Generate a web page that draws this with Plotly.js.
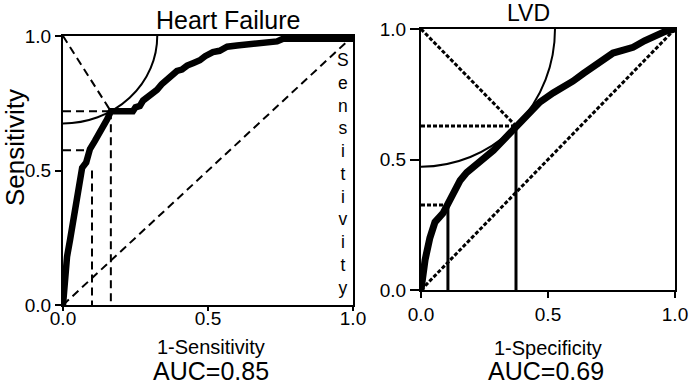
<!DOCTYPE html>
<html>
<head>
<meta charset="utf-8">
<script src="https://cdn.plot.ly/plotly-3.0.1.min.js"></script>
<style>html,body{margin:0;padding:0;background:#fff}#chart{width:693px;height:385px}</style>
</head>
<body>
<div id="chart"></div>
<script>
// Heart Failure ROC curve (1-specificity, sensitivity)
const hfX = [0, 0.003, 0.007, 0.014, 0.024, 0.031, 0.041, 0.059, 0.066, 0.08, 0.093, 0.11, 0.128, 0.14, 0.152, 0.165, 0.2, 0.241, 0.25, 0.265, 0.276, 0.29, 0.305, 0.324, 0.34, 0.359, 0.375, 0.393, 0.41, 0.428, 0.45, 0.472, 0.49, 0.517, 0.54, 0.566, 0.6, 0.655, 0.7, 0.738, 0.759, 0.85, 1];
const hfY = [0, 0.056, 0.13, 0.18, 0.24, 0.28, 0.35, 0.45, 0.51, 0.53, 0.58, 0.61, 0.64, 0.665, 0.69, 0.72, 0.72, 0.72, 0.735, 0.74, 0.76, 0.77, 0.785, 0.80, 0.82, 0.84, 0.85, 0.87, 0.875, 0.89, 0.90, 0.91, 0.925, 0.94, 0.945, 0.96, 0.965, 0.97, 0.975, 0.98, 0.99, 0.99, 0.99];
// LVD ROC curve
const lvdX = [0, 0.004, 0.016, 0.035, 0.055, 0.087, 0.106, 0.126, 0.154, 0.18, 0.205, 0.23, 0.26, 0.285, 0.31, 0.36, 0.39, 0.417, 0.468, 0.52, 0.56, 0.598, 0.64, 0.677, 0.72, 0.756, 0.8, 0.835, 0.88, 0.913, 0.96, 1];
const lvdY = [0, 0.04, 0.115, 0.20, 0.26, 0.295, 0.333, 0.37, 0.42, 0.45, 0.47, 0.49, 0.51, 0.535, 0.56, 0.61, 0.635, 0.66, 0.72, 0.755, 0.775, 0.80, 0.83, 0.854, 0.88, 0.908, 0.92, 0.93, 0.955, 0.97, 0.99, 1];
// Cut-off points [1-specificity, sensitivity]
const hfCut = [0.165, 0.72];
const hfAlt = [0.10, 0.575];
const hfAltTop = 0.50;
const lvdCut = [0.374, 0.628];
const lvdAlt = [0.106, 0.326];
const titles = ["Heart Failure", "LVD"];
const xTitles = ["1-Sensitivity", "1-Specificity"];
const aucLabels = ["AUC=0.85", "AUC=0.69"];
const yTitle = "Sensitivity";
const tickVals = [0, 0.5, 1];

const FONT = "Liberation Sans, Arial, sans-serif";
const dashL = "8px,5px";
const dotR = "4px,2px";

function seg(x, y, xa, ya, dash, w) {
  return {x: x, y: y, xaxis: xa, yaxis: ya, mode: "lines", type: "scatter",
    line: {color: "black", width: w, dash: dash}, hoverinfo: "skip", showlegend: false};
}

const traces = [
  // left plot
  seg([0, 1], [0, 1], "x", "y", dashL, 2),
  seg([0, hfCut[0]], [1, hfCut[1]], "x", "y", dashL, 2),
  seg([0, hfCut[0]], [hfCut[1], hfCut[1]], "x", "y", dashL, 2),
  seg([hfCut[0], hfCut[0]], [hfCut[1], 0], "x", "y", dashL, 2),
  seg([0, hfAlt[0] - 0.01], [hfAlt[1], hfAlt[1]], "x", "y", dashL, 2),
  seg([hfAlt[0], hfAlt[0]], [hfAltTop, 0], "x", "y", dashL, 2),
  seg(hfX, hfY, "x", "y", "solid", 6.5),
  // right plot
  seg([0, 1], [0, 1], "x2", "y2", dotR, 3),
  seg([0, lvdCut[0]], [1, lvdCut[1]], "x2", "y2", dotR, 3),
  seg([0, lvdCut[0]], [lvdCut[1], lvdCut[1]], "x2", "y2", dotR, 3),
  seg([lvdCut[0], lvdCut[0]], [lvdCut[1], 0], "x2", "y2", "solid", 3),
  seg([0, lvdAlt[0]], [lvdAlt[1], lvdAlt[1]], "x2", "y2", dotR, 3),
  seg([lvdAlt[0], lvdAlt[0]], [lvdAlt[1], 0], "x2", "y2", "solid", 3),
  seg(lvdX, lvdY, "x2", "y2", "solid", 7)
];

const rHF = Math.hypot(hfCut[0], 1 - hfCut[1]);
const rLVD = Math.hypot(lvdCut[0], 1 - lvdCut[1]);

function ax(domain, anchor, len, standoff) {
  const a = {domain: domain, anchor: anchor, range: [0, 1], tickvals: tickVals, tickformat: ".1f",
    showline: true, mirror: true, linewidth: 2, linecolor: "black",
    ticks: "outside", ticklen: len, tickwidth: 2, tickcolor: "black",
    showgrid: false, zeroline: false, fixedrange: true,
    tickfont: {family: FONT, size: 19, color: "black"}};
  if (standoff !== undefined) a.ticklabelstandoff = standoff;
  return a;
}

const layout = {
  width: 693, height: 385,
  margin: {l: 0, r: 0, t: 0, b: 0},
  paper_bgcolor: "white", plot_bgcolor: "white",
  showlegend: false,
  font: {family: FONT, color: "black"},
  xaxis: ax([63/693, 353/693], "y", 4, -9),
  yaxis: ax([1 - 305/385, 1 - 36/385], "x", 6),
  xaxis2: ax([421/693, 675/693], "y2", 6),
  yaxis2: ax([1 - 290/385, 1 - 29/385], "x2", 9),
  shapes: [
    {type: "circle", xref: "x", yref: "y", x0: -rHF, x1: rHF, y0: 1 - rHF, y1: 1 + rHF,
     line: {color: "black", width: 2}},
    {type: "circle", xref: "x2", yref: "y2", x0: -rLVD, x1: rLVD, y0: 1 - rLVD, y1: 1 + rLVD,
     line: {color: "black", width: 2}}
  ],
  annotations: [
    {text: titles[0], xref: "paper", yref: "paper", x: 228/693, y: 1 - 20/385, showarrow: false,
     xanchor: "center", yanchor: "middle", font: {size: 25}},
    {text: titles[1], xref: "paper", yref: "paper", x: 528/693, y: 1 - 13/385, showarrow: false,
     xanchor: "center", yanchor: "middle", font: {size: 23}},
    {text: xTitles[0], xref: "paper", yref: "paper", x: 211/693, y: 1 - 347/385, showarrow: false,
     xanchor: "center", yanchor: "middle", font: {size: 20}},
    {text: xTitles[1], xref: "paper", yref: "paper", x: 548/693, y: 1 - 348/385, showarrow: false,
     xanchor: "center", yanchor: "middle", font: {size: 20}},
    {text: aucLabels[0], xref: "paper", yref: "paper", x: 211/693, y: 1 - 371/385, showarrow: false,
     xanchor: "center", yanchor: "middle", font: {size: 25}},
    {text: aucLabels[1], xref: "paper", yref: "paper", x: 546/693, y: 1 - 371/385, showarrow: false,
     xanchor: "center", yanchor: "middle", font: {size: 25}},
    {text: yTitle, xref: "paper", yref: "paper", x: 15/693, y: 1 - 148/385, showarrow: false,
     textangle: -90, xanchor: "center", yanchor: "middle", font: {size: 26}},
    {text: yTitle.split("").join("<br>"), xref: "paper", yref: "paper", x: 343/693, y: 1 - 174/385,
     showarrow: false, xanchor: "center", yanchor: "middle", font: {size: 17.5}}
  ]
};

Plotly.newPlot("chart", traces, layout, {staticPlot: true, displayModeBar: false});
</script>
</body>
</html>
